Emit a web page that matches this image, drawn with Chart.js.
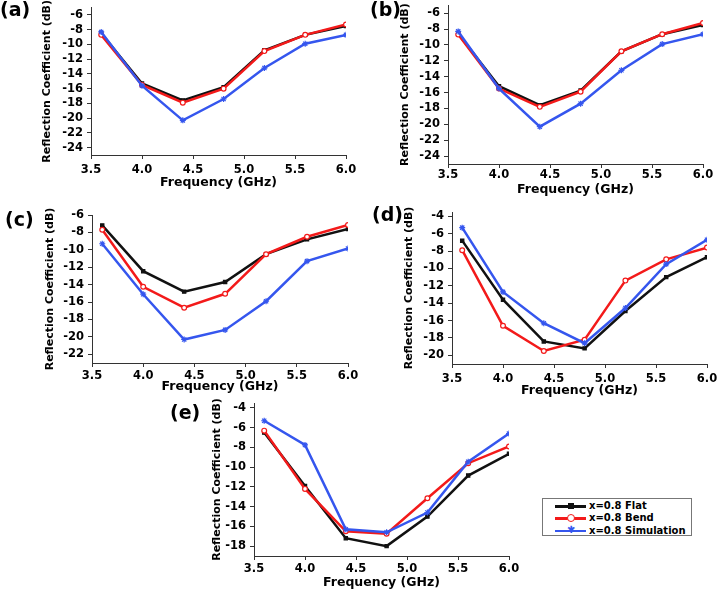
<!DOCTYPE html>
<html lang="en">
<head>
<meta charset="UTF-8">
<title>Reflection Coefficient vs Frequency</title>
<script src="https://cdn.jsdelivr.net/npm/chart.js"></script>
<style>
  html, body { margin: 0; padding: 0; background: #fff; width: 718px; height: 590px; overflow: hidden; }
  body { position: relative; font-family: "DejaVu Sans", Verdana, sans-serif; }
  canvas { position: absolute; }
  .tag { position: absolute; font-weight: bold; font-size: 19px; color: #000; line-height: 1; }
  #legend { position: absolute; left: 542px; top: 498px; width: 150px; height: 38px; box-sizing: border-box;
            border: 1px solid #777; padding-top: 1px; }
  .row { position: relative; height: 12.3px; font-size: 10px; font-weight: bold; line-height: 12.3px; }
  .ln { position: absolute; left: 12px; width: 31px; top: 5px; height: 2.5px; }
  .mk { position: absolute; }
  .lt { position: absolute; left: 46px; white-space: nowrap; }
</style>
</head>
<body>
<div id="charts"></div>
<div id="legend"></div>

<script>
// x values (GHz) shared by all panels
const freq = [3.6, 4.0, 4.4, 4.8, 5.2, 5.6, 6.0];
const xTicks = [3.5, 4.0, 4.5, 5.0, 5.5, 6.0];
const seriesNames = ['x=0.8 Flat', 'x=0.8 Bend', 'x=0.8 Simulation'];

// panel (a)
const aFlat = [-8.5, -15.3, -17.6, -15.8, -10.8, -8.7, -7.5];
const aBend = [-8.7, -15.5, -17.9, -16.0, -10.9, -8.7, -7.3];
const aSim  = [-8.3, -15.6, -20.3, -17.4, -13.2, -9.9, -8.7];
// panel (b)
const bFlat = [-8.6, -15.2, -17.6, -15.75, -10.8, -8.65, -7.5];
const bBend = [-8.7, -15.5, -17.8, -15.9, -10.8, -8.65, -7.25];
const bSim  = [-8.3, -15.5, -20.3, -17.4, -13.2, -9.9, -8.65];
// panel (c)
const cFlat = [-7.2, -12.45, -14.8, -13.7, -10.5, -8.8, -7.6];
const cBend = [-7.7, -14.25, -16.65, -15.05, -10.5, -8.5, -7.15];
const cSim  = [-9.3, -15.1, -20.3, -19.2, -15.9, -11.3, -9.85];
// panel (d)
const dFlat = [-6.8, -13.6, -18.4, -19.2, -14.9, -11.0, -8.7];
const dBend = [-7.9, -16.6, -19.5, -18.2, -11.4, -8.95, -7.6];
const dSim  = [-5.3, -12.7, -16.3, -18.6, -14.55, -9.5, -6.7];
// panel (e)
const eFlat = [-6.5, -11.9, -17.2, -18.0, -15.0, -10.85, -8.65];
const eBend = [-6.3, -12.2, -16.5, -16.75, -13.15, -9.6, -7.9];
const eSim  = [-5.3, -7.75, -16.3, -16.6, -14.6, -9.45, -6.6];

// y tick labels
const yTicksAB = [-24, -22, -20, -18, -16, -14, -12, -10, -8, -6];
const yTicksC  = [-22, -20, -18, -16, -14, -12, -10, -8, -6];
const yTicksD  = [-20, -18, -16, -14, -12, -10, -8, -6, -4];
const yTicksE  = [-18, -16, -14, -12, -10, -8, -6, -4];

// series styles
const styles = [
    { color: '#111111', pointStyle: 'rect',   radius: 2.3, fill: '#111111', order: 3 },
    { color: '#f31a1a', pointStyle: 'circle', radius: 2.4, fill: '#ffffff', order: 2 },
    { color: '#3556ee', pointStyle: 'star',   radius: 3,   fill: '#3556ee', order: 1 }
];

// layout of each panel on the page
const panels = [
    { tag: '(a)', tagAt: [0, 0],    box: { x: 0,   y: 0,   w: 360, h: 196 }, area: { l: 91, t: 7.6, r: 346, b: 155 },
      yMin: -25, yMax: -5,   yTicks: yTicksAB, data: [aFlat, aBend, aSim], yTitleX: 47, xTitleY: 183, xTickY: 170 },
    { tag: '(b)', tagAt: [370, 0],  box: { x: 360, y: 0,   w: 358, h: 200 }, area: { l: 88, t: 3, r: 343, b: 164 },
      yMin: -25, yMax: -5,   yTicks: yTicksAB, data: [bFlat, bBend, bSim], yTitleX: 45, xTitleY: 190, xTickY: 175 },
    { tag: '(c)', tagAt: [5, 210],  box: { x: 0,   y: 200, w: 360, h: 196 }, area: { l: 92, t: 15, r: 348, b: 163 },
      yMin: -23, yMax: -6,   yTicks: yTicksC,  data: [cFlat, cBend, cSim], yTitleX: 50, xTitleY: 187, xTickY: 176 },
    { tag: '(d)', tagAt: [372, 205], box: { x: 360, y: 200, w: 358, h: 198 }, area: { l: 92, t: 12, r: 347, b: 164 },
      yMin: -21, yMax: -3.5, yTicks: yTicksD,  data: [dFlat, dBend, dSim], yTitleX: 49, xTitleY: 191, xTickY: 179 },
    { tag: '(e)', tagAt: [170, 403], box: { x: 180, y: 390, w: 360, h: 200 }, area: { l: 74, t: 13, r: 329, b: 166 },
      yMin: -19, yMax: -3.5, yTicks: yTicksE,  data: [eFlat, eBend, eSim], yTitleX: 37, xTitleY: 193, xTickY: 179 }
];

const tickFont = { family: '"DejaVu Sans", Verdana, sans-serif', size: 11.5, weight: 'bold' };
const xTitleFont = { family: '"DejaVu Sans", Verdana, sans-serif', size: 12.5, weight: 'bold' };
const yTitleFont = { family: '"DejaVu Sans", Verdana, sans-serif', size: 11, weight: 'bold' };
const axisColor = '#333333';
const tickLen = 4;

function buildChart(p) {
    const cv = document.createElement('canvas');
    cv.width = p.box.w;
    cv.height = p.box.h;
    cv.style.left = p.box.x + 'px';
    cv.style.top = p.box.y + 'px';
    document.getElementById('charts').appendChild(cv);

    const tag = document.createElement('div');
    tag.className = 'tag';
    tag.textContent = p.tag;
    tag.style.left = p.tagAt[0] + 'px';
    tag.style.top = p.tagAt[1] + 'px';
    document.body.appendChild(tag);

    const datasets = p.data.map((vals, i) => ({
        label: seriesNames[i],
        data: freq.map((f, k) => ({ x: f, y: vals[k] })),
        borderColor: styles[i].color,
        backgroundColor: styles[i].fill,
        borderWidth: 2.5,
        pointStyle: styles[i].pointStyle,
        pointRadius: styles[i].radius,
        pointBorderWidth: 1.2,
        pointBackgroundColor: styles[i].fill,
        pointBorderColor: styles[i].color,
        order: styles[i].order,
        tension: 0
    }));

    const xLh = xTitleFont.size * 1.2;
    const yLh = yTitleFont.size * 1.2;

    new Chart(cv.getContext('2d'), {
        type: 'line',
        data: { datasets: datasets },
        options: {
            responsive: false,
            animation: false,
            devicePixelRatio: 1,
            layout: { padding: { left: 0, top: p.area.t, right: p.box.w - p.area.r, bottom: 0 } },
            plugins: { legend: { display: false }, tooltip: { enabled: false } },
            scales: {
                x: {
                    type: 'linear', min: 3.5, max: 6.0,
                    afterBuildTicks: s => { s.ticks = xTicks.map(v => ({ value: v })); },
                    afterFit: s => { s.height = p.box.h - p.area.b; s.paddingLeft = 0; s.paddingRight = 0; },
                    ticks: { callback: v => Number(v).toFixed(1), font: tickFont, color: '#000',
                             padding: p.xTickY - 7 - p.area.b - tickLen, maxRotation: 0, autoSkip: false },
                    grid: { drawOnChartArea: false, tickLength: tickLen, color: axisColor },
                    border: { color: axisColor, width: 1 },
                    title: { display: true, text: 'Frequency (GHz)', font: xTitleFont, color: '#000',
                             padding: { top: 0, bottom: p.box.h - p.xTitleY - xLh / 2 } }
                },
                y: {
                    min: p.yMin, max: p.yMax,
                    afterBuildTicks: s => { s.ticks = p.yTicks.map(v => ({ value: v })); },
                    afterFit: s => { s.width = p.area.l; s.paddingTop = 0; s.paddingBottom = 0; },
                    ticks: { font: tickFont, color: '#000', padding: 4, autoSkip: false },
                    grid: { drawOnChartArea: false, tickLength: tickLen, color: axisColor },
                    border: { color: axisColor, width: 1 },
                    title: { display: true, text: 'Reflection Coefficient (dB)', font: yTitleFont, color: '#000',
                             padding: { top: p.yTitleX - yLh / 2, bottom: 0 } }
                }
            }
        }
    });
}

panels.forEach(buildChart);

// shared legend
const legend = document.getElementById('legend');
seriesNames.forEach((name, i) => {
    const st = styles[i];
    const row = document.createElement('div');
    row.className = 'row';
    const ln = document.createElement('span');
    ln.className = 'ln';
    ln.style.background = st.color;
    const mk = document.createElement('span');
    mk.className = 'mk';
    if (st.pointStyle === 'rect') {
        Object.assign(mk.style, { left: '25px', top: '3px', width: '6px', height: '6px', background: st.color });
    } else if (st.pointStyle === 'circle') {
        Object.assign(mk.style, { left: '24px', top: '2px', width: '6px', height: '6px', background: '#fff',
                                  border: '1.3px solid ' + st.color, borderRadius: '50%' });
    } else {
        Object.assign(mk.style, { left: '24px', top: '-1px', fontSize: '10px', color: st.color });
        mk.textContent = '✱';
    }
    const lt = document.createElement('span');
    lt.className = 'lt';
    lt.textContent = name;
    row.append(ln, mk, lt);
    legend.appendChild(row);
});
</script>
</body>
</html>
